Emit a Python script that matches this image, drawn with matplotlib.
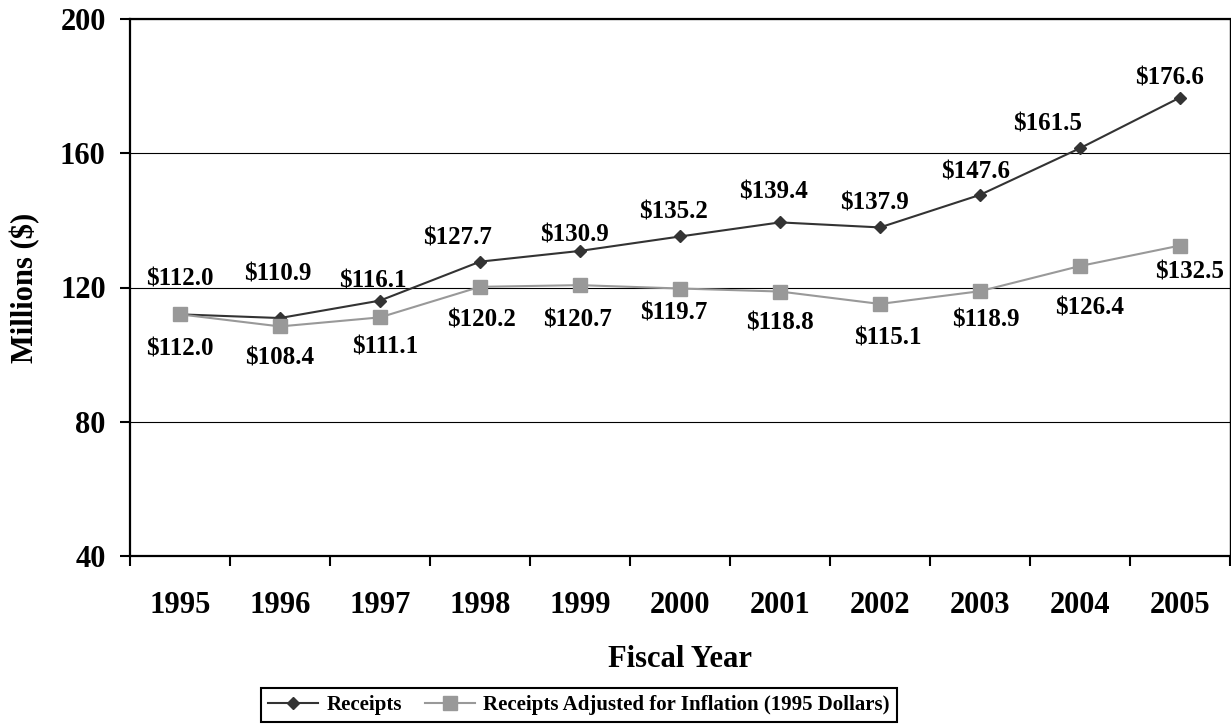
import matplotlib
matplotlib.use('Agg')
import matplotlib.pyplot as plt
import numpy as np

plt.rcParams['font.family'] = 'Liberation Serif'
plt.rcParams['font.weight'] = 'bold'

years = ['1995', '1996', '1997', '1998', '1999', '2000',
         '2001', '2002', '2003', '2004', '2005']
receipts = [112.0, 110.9, 116.1, 127.7, 130.9, 135.2, 139.4, 137.9, 147.6, 161.5, 176.6]
adjusted = [112.0, 108.4, 111.1, 120.2, 120.7, 119.7, 118.8, 115.1, 118.9, 126.4, 132.5]

# label offsets in pixels (dx, dy), dy positive = up
receipts_off = [(0, 35), (-2, 44), (-7, 20), (-22, 24), (-6, 16), (-6, 24),
                (-6, 30), (-6, 24), (-4, 23), (-32, 24), (-11, 20)]
adjusted_off = [(0, -35), (0, -32), (5, -30), (2, -33), (-2, -35), (-6, -24),
                (0, -31), (8, -34), (6, -29), (10, -42), (10, -26)]

W, H = 1231, 725
fig = plt.figure(figsize=(W / 100, H / 100), dpi=100)
ax = fig.add_axes([130 / W, 1 - 556 / H, 1100 / W, 537 / H])

x = np.arange(len(years))

ax.plot(x, receipts, color='#333333', lw=1.5, marker='D', ms=6.5,
        mec='#333333', label='Receipts', zorder=3)
ax.plot(x, adjusted, color='#999999', lw=1.5, marker='s', ms=10.5,
        mec='#999999', label='Receipts Adjusted for Inflation (1995 Dollars)', zorder=4)

for i in range(len(x)):
    ax.annotate('$%.1f' % receipts[i], (x[i], receipts[i]), xytext=receipts_off[i],
                textcoords='offset pixels', ha='center', va='center', fontsize=18,
                fontweight='bold', zorder=5)
    ax.annotate('$%.1f' % adjusted[i], (x[i], adjusted[i]), xytext=adjusted_off[i],
                textcoords='offset pixels', ha='center', va='center', fontsize=18,
                fontweight='bold', zorder=5)

ax.set_xlim(-0.5, len(years) - 0.5)
ax.set_ylim(40, 200)
ax.set_yticks([40, 80, 120, 160, 200])
ax.set_xticks(x)
ax.set_xticklabels(years)
ax.set_xticks(np.arange(-0.5, len(years), 1.0), minor=True)
ax.tick_params(axis='x', which='major', length=0, pad=25, labelsize=22)
ax.tick_params(axis='x', which='minor', length=7.5, width=1.5, direction='out')
ax.tick_params(axis='y', length=7.5, width=1.5, direction='out', pad=10, labelsize=22)
for lab in ax.get_xticklabels() + ax.get_yticklabels():
    lab.set_fontweight('bold')

ax.yaxis.grid(True, color='black', lw=0.8)
ax.set_axisbelow(True)

for s in ['left', 'bottom', 'top']:
    ax.spines[s].set_linewidth(1.6)
ax.spines['right'].set_linewidth(1.0)

ax.set_ylabel('Millions ($)', fontsize=22, fontweight='bold')
ax.yaxis.set_label_coords(-0.082, 0.5)
ax.set_xlabel('Fiscal Year', fontsize=22, fontweight='bold')
ax.xaxis.set_label_coords(0.5, -0.165)

leg = fig.legend(loc='center', bbox_to_anchor=(579 / W, 1 - 705 / H), ncol=2,
                 frameon=True, fancybox=False, framealpha=1,
                 edgecolor='black', handlelength=2.4, columnspacing=1.1,
                 handletextpad=0.4, borderpad=0.35, prop={'weight': 'bold', 'size': 15})
leg.get_frame().set_linewidth(1.5)

fig.savefig('out.png', dpi=100)
